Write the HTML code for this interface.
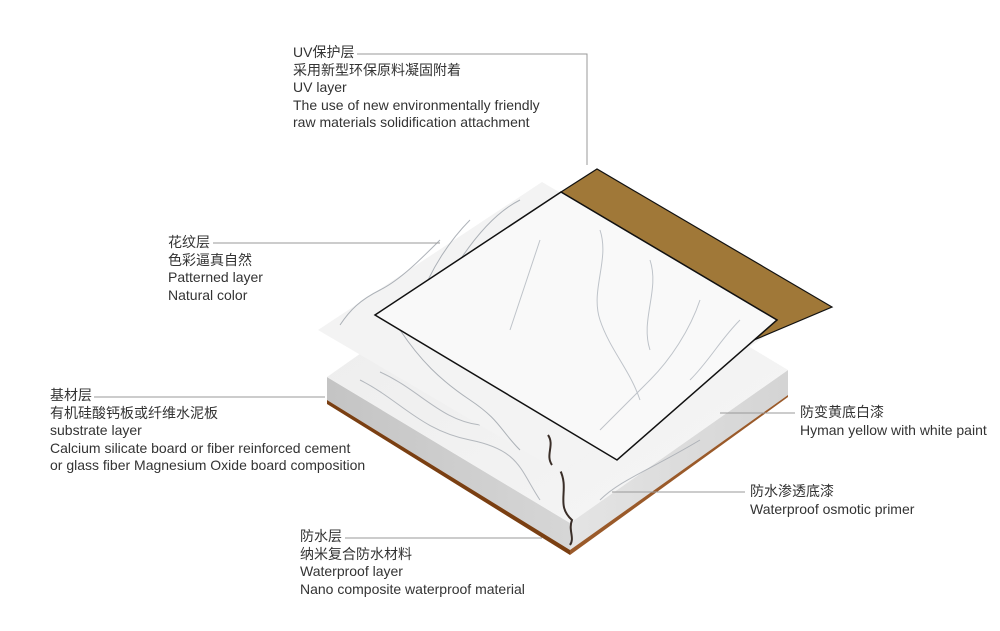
<!DOCTYPE html>
<html><head><meta charset="utf-8"><style>
html,body{margin:0;padding:0;background:#fff;}
.wrap{position:relative;width:1000px;height:631px;overflow:hidden;background:#fff;}
svg{position:absolute;left:0;top:0;}
.t{position:absolute;font-family:"Liberation Sans","Noto Sans CJK SC",sans-serif;font-size:14px;color:#333;line-height:17.5px;white-space:nowrap;}
</style></head><body><div class="wrap">
<svg width="1000" height="631" viewBox="0 0 1000 631">
<defs>
<linearGradient id="lf" x1="0" y1="0" x2="1" y2="0"><stop offset="0" stop-color="#c4c4c4"/><stop offset="1" stop-color="#d6d6d6"/></linearGradient>
<linearGradient id="rf" x1="0" y1="0" x2="1" y2="0"><stop offset="0" stop-color="#e4e4e4"/><stop offset="1" stop-color="#d4d4d4"/></linearGradient>
<linearGradient id="tp" x1="0" y1="0" x2="1" y2="1"><stop offset="0" stop-color="#ececec"/><stop offset="1" stop-color="#f6f6f6"/></linearGradient>
</defs>
<!-- substrate -->
<polygon points="327,377 570,523 570,550 327,400" fill="url(#lf)"/>
<polygon points="570,523 788,370 788,395 570,550" fill="url(#rf)"/>
<polygon points="327,400 570,550 570,555 327,404" fill="#7a3f12"/>
<polygon points="570,550 788,395 788,397 570,555" fill="#9a5a2a"/>
<polygon points="545,224 788,370 570,523 327,377" fill="url(#tp)"/>
<g fill="none" stroke="#9aa0a8" stroke-width="1" opacity="0.7">
<path d="M360,380 C400,400 420,430 470,440 S520,470 540,500"/>
<path d="M380,372 C420,390 440,420 480,425"/>
<path d="M600,500 C620,480 650,470 700,440"/>
</g>
<path d="M560,470 C570,490 555,505 572,520 C568,530 575,538 570,545" fill="none" stroke="#3a2e28" stroke-width="2"/>
<!-- patterned layer -->
<polygon points="542,182 784,324 560,472 318,330" fill="#f3f3f3"/>
<g fill="none" stroke="#9aa0a8" stroke-width="1" opacity="0.8">
<path d="M440,240 C420,260 400,280 380,290 S350,310 340,325"/>
<path d="M470,220 C450,240 430,270 420,300"/>
<path d="M400,330 C420,360 440,380 470,400 S500,430 520,450"/>
<path d="M520,200 C500,210 480,230 460,260"/>
</g>
<path d="M548,435 C555,445 545,455 552,465" fill="none" stroke="#3a2e28" stroke-width="2"/>
<!-- brown UV layer -->
<polygon points="561,192 597,169 832,307 747,343 777,320" fill="#a07838" stroke="#111" stroke-width="1.2"/>
<!-- white square -->
<polygon points="561,192 777,320 617,460 375,315" fill="#f9f9f9" stroke="#111" stroke-width="1.5"/>
<g fill="none" stroke="#b0b6be" stroke-width="1" opacity="0.8">
<path d="M600,230 C610,260 590,290 600,320 S630,370 640,400"/>
<path d="M650,260 C660,290 640,320 650,350"/>
<path d="M700,300 C690,330 670,360 650,380 S620,410 600,430"/>
<path d="M540,240 C530,270 520,300 510,330"/>
<path d="M740,320 C720,340 710,360 690,380"/>
</g>
<!-- leader lines -->
<g stroke="#999" stroke-width="1" fill="none">
<polyline points="357,54 587,54 587,165"/>
<line x1="213" y1="243" x2="440" y2="243"/>
<line x1="94" y1="397" x2="325" y2="397"/>
<line x1="720" y1="413" x2="795" y2="413"/>
<line x1="612" y1="492" x2="745" y2="492"/>
<line x1="345" y1="538" x2="542" y2="538"/>
</g>
</svg>
<div class="t" style="left:293px;top:44px">UV保护层<br>采用新型环保原料凝固附着<br>UV layer<br>The use of new environmentally friendly<br>raw materials solidification attachment</div>
<div class="t" style="left:168px;top:234px">花纹层<br>色彩逼真自然<br>Patterned layer<br>Natural color</div>
<div class="t" style="left:50px;top:387px">基材层<br>有机硅酸钙板或纤维水泥板<br>substrate layer<br>Calcium silicate board or fiber reinforced cement<br>or glass fiber Magnesium Oxide board composition</div>
<div class="t" style="left:800px;top:404px">防变黄底白漆<br>Hyman yellow with white paint</div>
<div class="t" style="left:750px;top:483px">防水渗透底漆<br>Waterproof osmotic primer</div>
<div class="t" style="left:300px;top:528px">防水层<br>纳米复合防水材料<br>Waterproof layer<br>Nano composite waterproof material</div>
</div></body></html>
